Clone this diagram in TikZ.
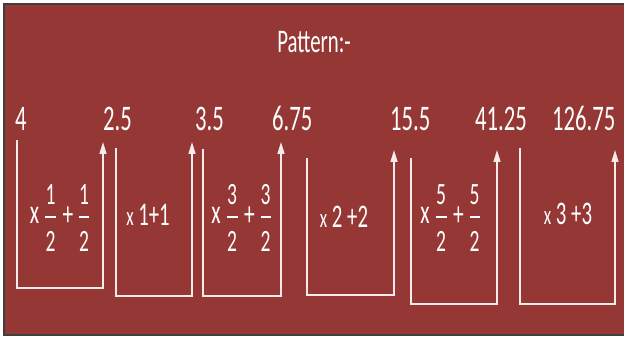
\documentclass[tikz,border=0pt]{standalone}
\usepackage{fontspec}
\setmainfont{Carlito}[FakeStretch=0.63]
\usetikzlibrary{arrows.meta}
\definecolor{bg}{HTML}{953735}
\definecolor{ln}{HTML}{F7EAEA}
\definecolor{edgegray}{HTML}{3F3F3F}
\tikzset{
  num/.style={text=white, inner sep=0pt, anchor=base west, font=\fontsize{36}{36}\selectfont},
  fr/.style={text=white, inner sep=0pt, font=\fontsize{31}{31}\selectfont},
  op/.style={text=white, inner sep=0pt, font=\fontsize{34}{34}\selectfont},
  simple/.style={text=white, inner sep=0pt, font=\fontsize{33}{33}\selectfont},
  conn/.style={draw=ln, line width=1.5pt, -{Triangle[width=7pt,length=12pt]}},
  fbar/.style={draw=white, line width=1.8pt},
}
\newcommand\mulfrac[3]{%
  \node[op] (x#1) at (#2,215) {x};
  \node[fr] (f#1n) at (#2+16,195) {#3};
  \draw[fbar] (#2+10.5,217) -- (#2+21.5,217);
  \node[fr] (f#1d) at (#2+16,241) {2};
  \node[op] (p#1) at (#2+33.5,216) {+};
  \node[fr] (g#1n) at (#2+49.5,195) {#3};
  \draw[fbar] (#2+44.5,217) -- (#2+54.5,217);
  \node[fr] (g#1d) at (#2+49.5,241) {2};
}
\begin{document}
\begin{tikzpicture}[x=1pt,y=-1pt]
\useasboundingbox (0,0) rectangle (624,339);
\fill[white] (0,0) rectangle (624,339);
\draw[draw=edgegray, fill=bg, line width=1.5pt] (4,4) rectangle (630,335);
\node[text=white, inner sep=0pt, font=\fontsize{33}{33}\selectfont, anchor=base] (title) at (314,53) {Pattern:-};
% numbers
\node[num] (n1) at (15,131) {4};
\node[num] (n2) at (103,131) {2.5};
\node[num] (n3) at (195,131) {3.5};
\node[num] (n4) at (272,131) {6.75};
\node[num] (n5) at (390,131) {15.5};
\node[num] (n6) at (475,131) {41.25};
\node[num] (n7) at (552,131) {126.75};
% connectors
\coordinate (s1) at (17,140);  \coordinate (e1) at (103,142); \coordinate (b1) at (0,288);
\coordinate (s2) at (116,148); \coordinate (e2) at (192,142); \coordinate (b2) at (0,296);
\coordinate (s3) at (203,149); \coordinate (e3) at (281,142); \coordinate (b3) at (0,296);
\coordinate (s4) at (307,158); \coordinate (e4) at (394,150); \coordinate (b4) at (0,295);
\coordinate (s5) at (411,158); \coordinate (e5) at (497,150); \coordinate (b5) at (0,304);
\coordinate (s6) at (520,148); \coordinate (e6) at (615,150); \coordinate (b6) at (0,304);
\foreach \i in {1,...,6}{
  \draw[conn] (s\i) -- (s\i|-b\i) -- (e\i|-b\i) -- (e\i);
}
% labels
\mulfrac{1}{34.5}{1}
\mulfrac{3}{216}{3}
\mulfrac{5}{425}{5}
\node[simple] (m2) at (148,215) {{\fontsize{27}{27}\selectfont x} 1+1};
\node[simple] (m4) at (344,217) {{\fontsize{27}{27}\selectfont x} 2 +2};
\node[simple] (m6) at (568,214) {{\fontsize{27}{27}\selectfont x} 3 +3};
\end{tikzpicture}
\end{document}
